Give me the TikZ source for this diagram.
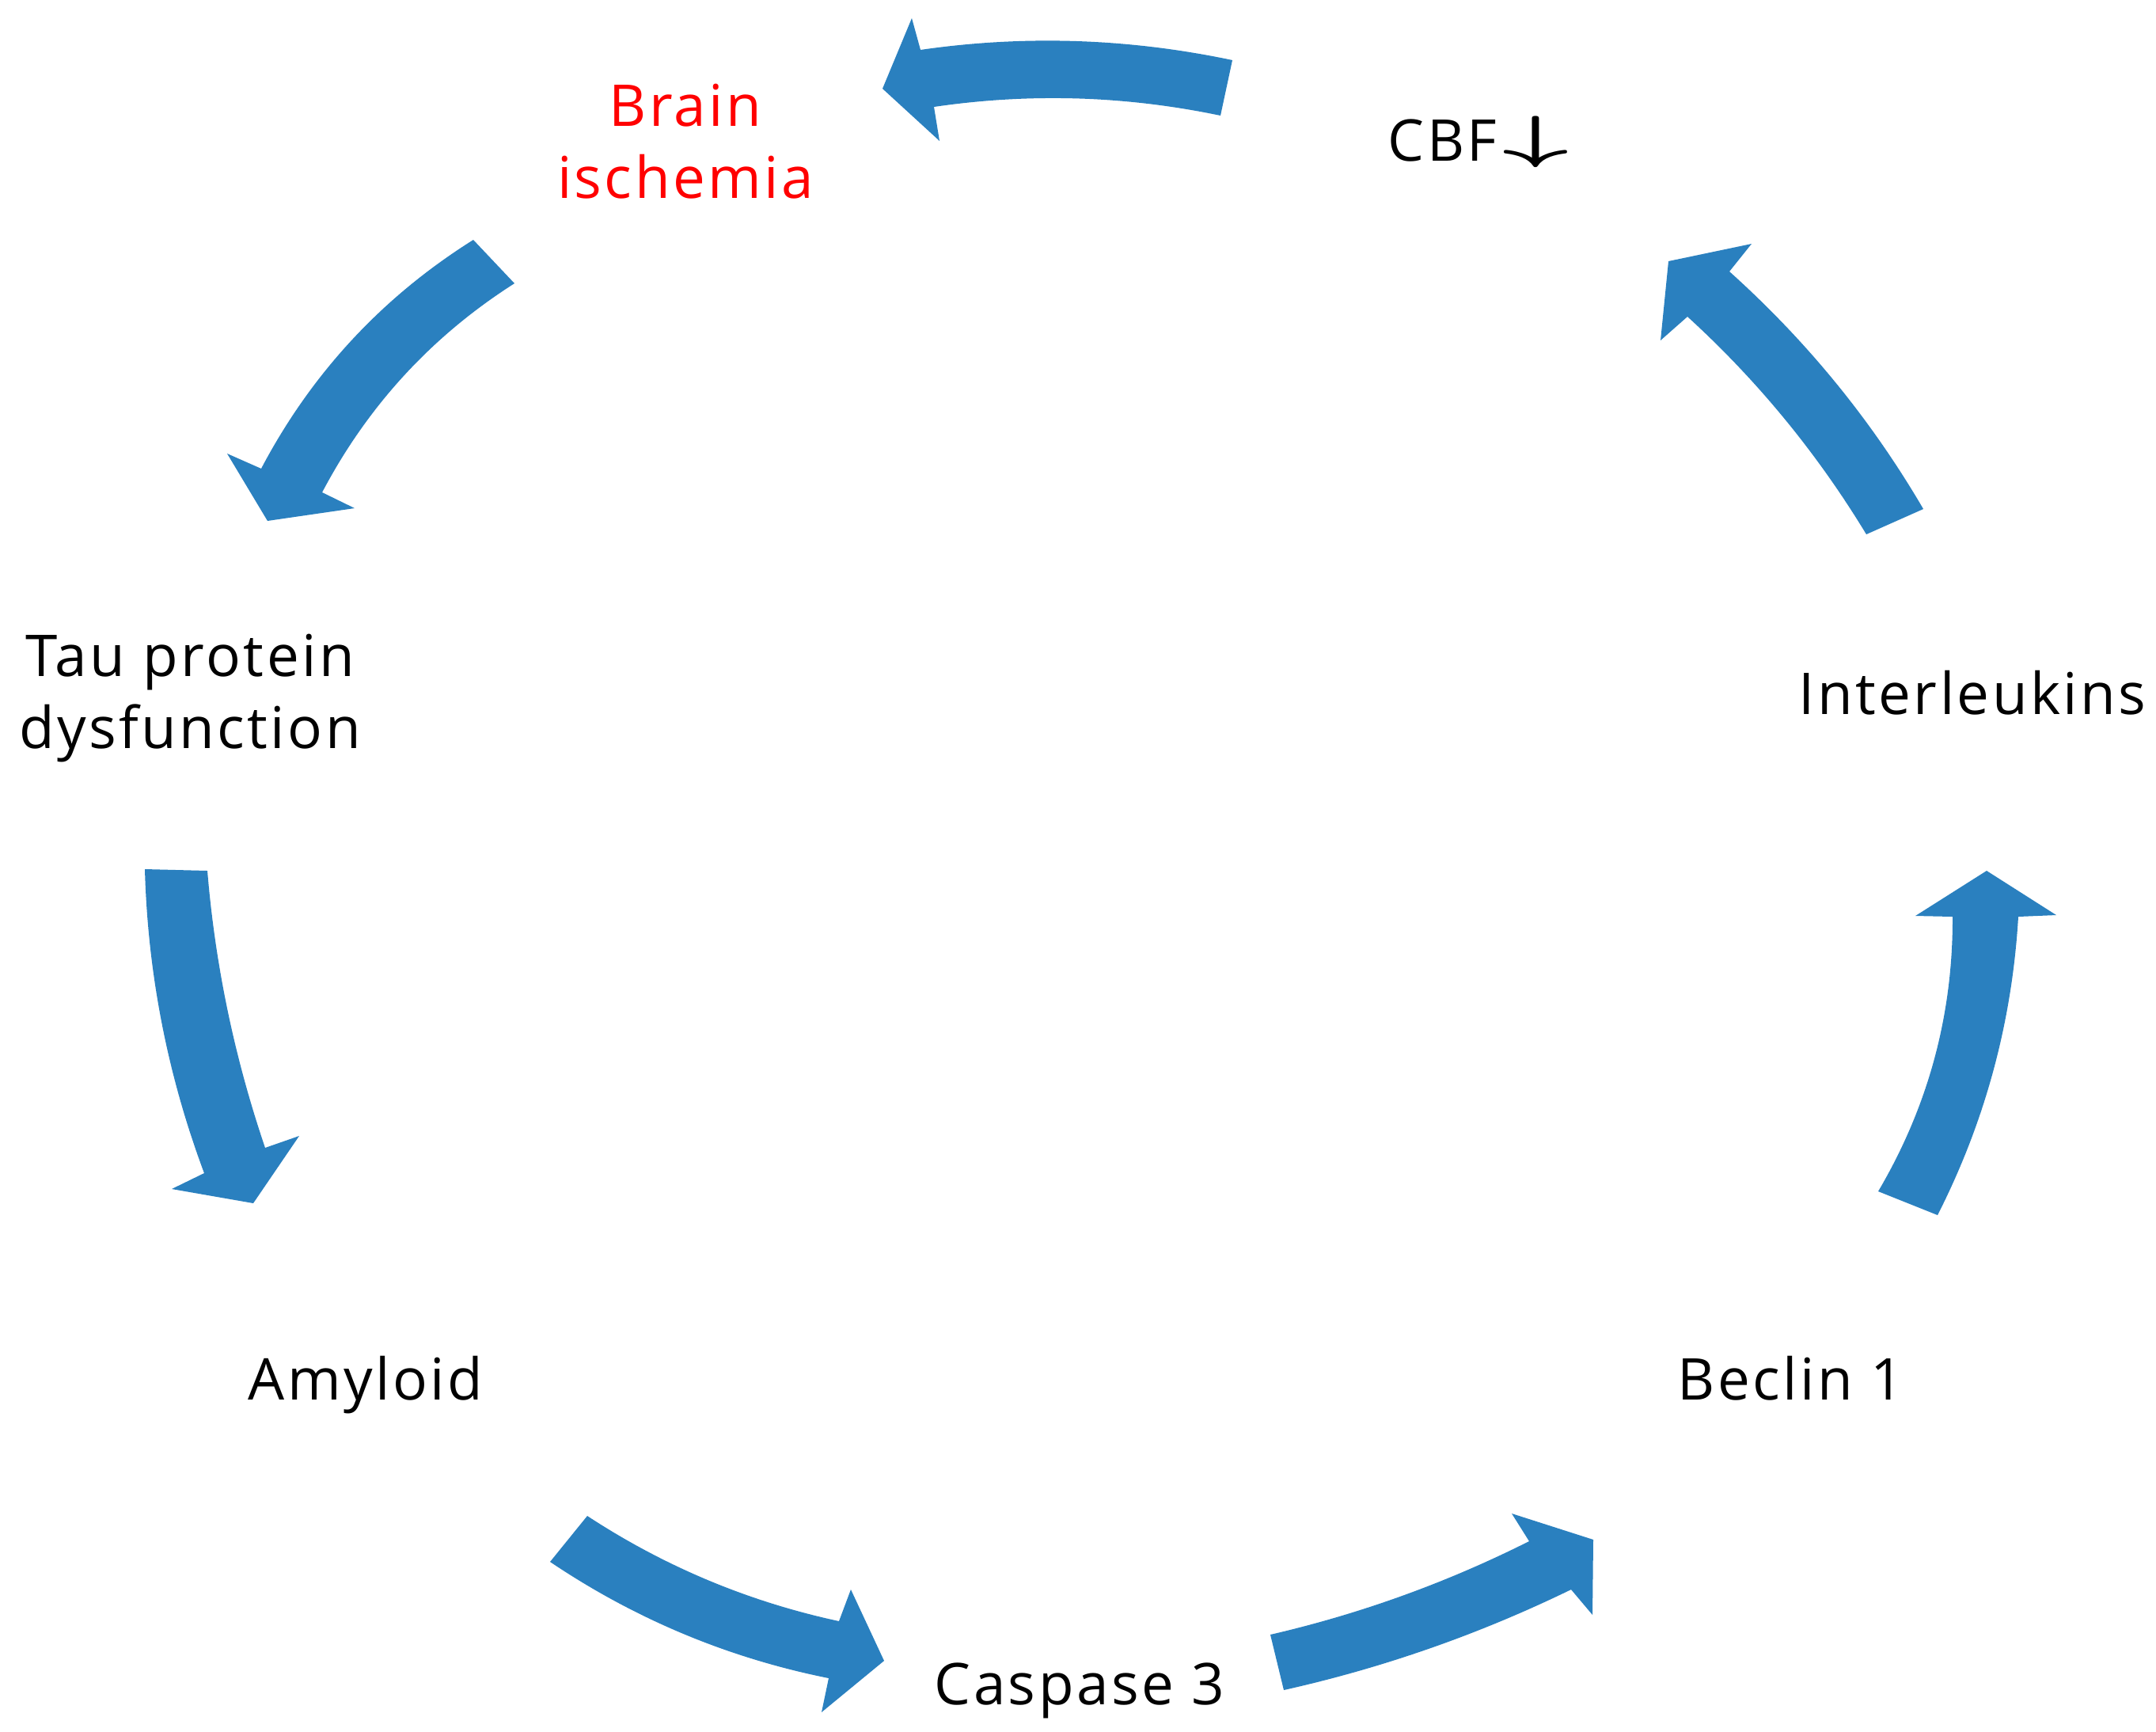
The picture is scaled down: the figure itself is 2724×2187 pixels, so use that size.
\documentclass[tikz,border=0pt]{standalone}
\usepackage{fontspec}
\usepackage{graphicx}
\setmainfont[LetterSpace=4.7]{Open Sans}
\definecolor{arrowblue}{HTML}{2A80BF}
\definecolor{ischred}{HTML}{FF0000}
\begin{document}
\begin{tikzpicture}[x=0.01cm,y=-0.01cm,
  lbl/.style={inner sep=0pt, font=\fontsize{20.7}{25.8}\selectfont, align=center},
  blockarrow/.style={fill=arrowblue, draw=none}]
\useasboundingbox[fill=white] (0,0) rectangle (2724,2187);

% texts (base anchor of a multi-line node = baseline of its last line)
\node[lbl, text=ischred, anchor=base] (brain) at (866,250) {Brain\\ischemia};
\node[lbl, anchor=base west] (cbf) at (1753,203) {CBF\hspace{2pt}\raisebox{1.5pt}{\scalebox{2.0}[1]{\boldmath$\downarrow$}}};
\node[lbl, anchor=base] (tau) at (240,945) {Tau protein\\dysfunction};
\node[lbl, anchor=base west] (il) at (2272,902) {Interleukins};
\node[lbl, anchor=base west] (amy) at (313,1768) {Amyloid};
\node[lbl, anchor=base west] (becl) at (2119,1768) {Beclin 1};
\node[lbl, anchor=base west] (casp) at (1180,2153) {Caspase 3};

% CBF -> Brain ischemia
\fill[blockarrow] (1557,76) .. controls (1425.7,48.3) and (1294.3,44) .. (1163,63)
  -- (1152,23) -- (1115,112) -- (1187,178) -- (1180,135)
  .. controls (1301.3,117.2) and (1422,120.9) .. (1542,146) -- cycle;
% Brain ischemia -> Tau protein dysfunction
\fill[blockarrow] (598,303) .. controls (482.8,375.3) and (393.5,471.6) .. (330,592)
  -- (287,573) -- (338,658) -- (448,642) -- (407,622)
  .. controls (464.7,512.4) and (545.7,424.4) .. (650,358) -- cycle;
% Tau protein dysfunction -> Amyloid
\fill[blockarrow] (183,1098) .. controls (186.7,1230.1) and (211.7,1358.1) .. (258,1482)
  -- (217,1502) -- (320,1520) -- (378,1435) -- (335,1450)
  .. controls (296.3,1336.2) and (271.9,1219.6) .. (262,1100) -- cycle;
% Amyloid -> Caspase 3
\fill[blockarrow] (742,1915) .. controls (839.7,1979) and (945.7,2023.4) .. (1060,2048)
  -- (1075,2008) -- (1117,2098) -- (1038,2163) -- (1047,2120)
  .. controls (920,2094.5) and (802.7,2045.5) .. (695,1973) -- cycle;
% Caspase 3 -> Beclin 1
\fill[blockarrow] (1605,2065) .. controls (1718.7,2038.7) and (1827.7,1999.4) .. (1932,1947)
  -- (1910,1912) -- (2013,1945) -- (2012,2040) -- (1985,2008)
  .. controls (1869.1,2064.4) and (1748.1,2106.8) .. (1622,2135) -- cycle;
% Beclin 1 -> Interleukins
\fill[blockarrow] (2373,1505) .. controls (2436.2,1397.8) and (2467.5,1282.1) .. (2467,1158)
  -- (2420,1157) -- (2510,1100) -- (2598,1156) -- (2550,1158)
  .. controls (2542.1,1291) and (2508.1,1416.7) .. (2448,1535) -- cycle;
% Interleukins -> CBF
\fill[blockarrow] (2430,643) .. controls (2364.3,530.6) and (2282.6,430.6) .. (2185,343)
  -- (2213,308) -- (2108,330) -- (2098,430) -- (2132,400)
  .. controls (2220.4,480.6) and (2295.7,572.3) .. (2358,675) -- cycle;
\end{tikzpicture}
\end{document}
